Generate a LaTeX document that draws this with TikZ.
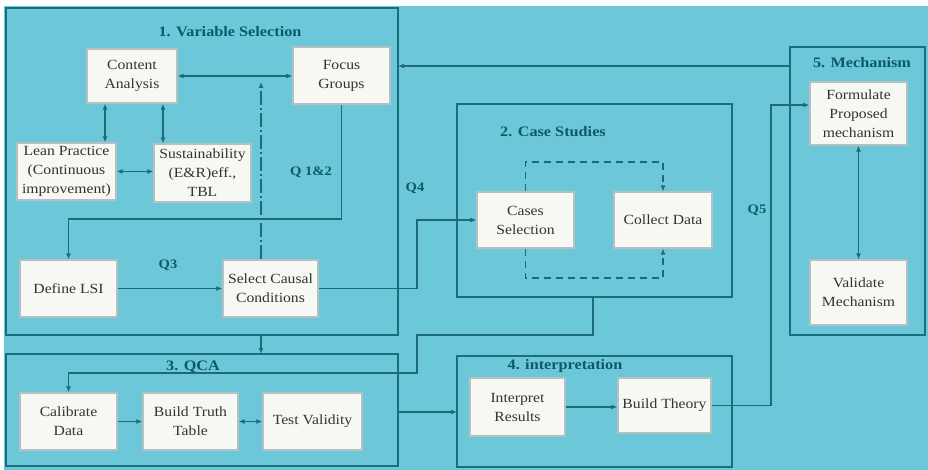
\documentclass[tikz,border=0pt]{standalone}
\usepackage{fontspec}
\setmainfont{Liberation Serif}
\newfontfamily\boxfont[FakeStretch=1.12]{Liberation Serif}
\usetikzlibrary{arrows.meta,calc}
\definecolor{bgc}{HTML}{6CC8D9}
\definecolor{secc}{HTML}{17707E}
\definecolor{conc}{HTML}{1D6B78}
\definecolor{titc}{HTML}{0C5A66}
\definecolor{boxf}{HTML}{F7F7F4}
\definecolor{boxd}{HTML}{B4C0C2}
\definecolor{txtc}{HTML}{333333}
\begin{document}
\begin{tikzpicture}[x=1pt,y=-1pt,
  sect/.style={draw=secc,line width=2.4pt,inner sep=0pt,outer sep=0pt},
  stepbox/.style={draw=boxd,fill=boxf,line width=1.2pt,inner sep=1pt,align=center,text=txtc,
    font=\boxfont\fontsize{14}{19}\selectfont},
  ttl/.style={text=titc,inner sep=0pt,font=\boxfont\bfseries\fontsize{14.5}{17}\selectfont},
  qlab/.style={text=titc,inner sep=0pt,font=\boxfont\bfseries\fontsize{13}{15}\selectfont},
  conn/.style={draw=conc,line width=1.2pt},
  dashpat/.style={dash pattern=on 14pt off 3pt on 2pt off 3pt},
  loopdash/.style={dash pattern=on 7pt off 5pt},
  >={Latex[length=6pt,width=5pt]}
]
\useasboundingbox (0,0) rectangle (928,470);
\fill[white] (0,0) rectangle (928,470);
\fill[bgc] (4,6) rectangle (928,470);

% sections
\node[sect,minimum width=392pt,minimum height=327pt] (s1) at (202,171.5) {};
\node[sect,minimum width=275pt,minimum height=193pt] (s2) at (594.5,200.5) {};
\node[sect,minimum width=392pt,minimum height=112pt] (s3) at (202,410) {};
\node[sect,minimum width=275pt,minimum height=111pt] (s4) at (594.5,411.5) {};
\node[sect,minimum width=135pt,minimum height=288pt] (s5) at (857.5,191) {};

% titles
\node[ttl] (t1) at (230,32) {1. Variable Selection};
\node[ttl] (t2) at (553,132) {2. Case Studies};
\node[ttl] (t3) at (193,367) {3. QCA};
\node[ttl] (t4) at (565,366) {4. interpretation};
\node[ttl] (t5) at (862,63) {5. Mechanism};

% boxes
\node[stepbox,minimum width=90pt,minimum height=54pt] (ca) at (132,76) {Content\\Analysis};
\node[stepbox,minimum width=97pt,minimum height=57pt] (fg) at (341.5,75.5) {Focus\\Groups};
\node[stepbox,minimum width=99pt,minimum height=57pt] (lean) at (66.5,171.5) {Lean Practice\\(Continuous\\improvement)};
\node[stepbox,minimum width=97pt,minimum height=58pt] (sus) at (202.5,173) {Sustainability\\(E\&R)eff.,\\TBL};
\node[stepbox,minimum width=97pt,minimum height=57pt] (dl) at (68.5,288.5) {Define LSI};
\node[stepbox,minimum width=95pt,minimum height=57pt] (sel) at (270.5,288.5) {Select Causal\\Conditions};
\node[stepbox,minimum width=97pt,minimum height=57pt] (cal) at (68.5,421.5) {Calibrate\\Data};
\node[stepbox,minimum width=95pt,minimum height=57pt] (btt) at (190.5,421.5) {Build Truth\\Table};
\node[stepbox,minimum width=99pt,minimum height=57pt] (tv) at (312.5,421.5) {Test Validity};
\node[stepbox,minimum width=97pt,minimum height=56pt] (cs) at (525.5,220) {Cases\\Selection};
\node[stepbox,minimum width=98pt,minimum height=56pt] (cd) at (663,220) {Collect Data};
\node[stepbox,minimum width=95pt,minimum height=58pt] (ir) at (517.5,407) {Interpret\\Results};
\node[stepbox,minimum width=93pt,minimum height=55pt] (bt) at (664.5,405.5) {Build Theory};
\node[stepbox,minimum width=97pt,minimum height=63pt] (form) at (858.5,113.5) {Formulate\\Proposed\\mechanism};
\node[stepbox,minimum width=97pt,minimum height=65pt] (val) at (858.5,292.5) {Validate\\Mechanism};

% labels
\node[qlab] (q12) at (311,172) {Q 1\&2};
\node[qlab] (q3) at (168,265) {Q3};
\node[qlab] (q4) at (415,188) {Q4};
\node[qlab] (q5l) at (757,210) {Q5};

% helper coordinates
\coordinate (dx) at (261,0);
\coordinate (dtop) at (261,82);
\coordinate (c1) at (105,0);
\coordinate (c2) at (163,0);
\coordinate (r1) at (0,219);
\coordinate (q4x) at (417,0);
\coordinate (lt) at (600,162);
\coordinate (lb) at (600,278);
\coordinate (b1) at (593,335);
\coordinate (b2) at (417,373);
\coordinate (m1) at (0,412);
\coordinate (q5) at (771,105);
\coordinate (m2) at (0,66);

% connectors
\draw[conn,<->] (ca.east) -- (ca.east -| fg.west);
\draw[conn,<->] (ca.south -| c1) -- (lean.north -| c1);
\draw[conn,<->] (ca.south -| c2) -- (sus.north -| c2);
\draw[conn,<->] (lean.east) -- (lean.east -| sus.west);
\draw[conn,dashpat,->] (sel.north -| dx) -- (dtop);
\draw[conn,->] (fg.south) |- (dl.north |- r1) -- (dl.north);
\draw[conn,->] (dl.east) -- (sel.west);
\draw[conn,->] (sel.east) -| (q4x |- cs.west) -- (cs.west);
\draw[conn,loopdash,->] (cs.north) |- (lt) -| (cd.north);
\draw[conn,loopdash,->] (cs.south) |- (lb) -| (cd.south);
\draw[conn,->] (s1.south -| dx) -- (s3.north -| dx);
\draw[conn,->] (s2.south -| b1) -- (b1) -| (b2) -| (cal.north);
\draw[conn,->] (cal.east) -- (btt.west);
\draw[conn,<->] (btt.east) -- (tv.west);
\draw[conn,->] (s3.east |- m1) -- (s4.west |- m1);
\draw[conn,->] (ir.east) -- (ir.east -| bt.west);
\draw[conn,->] (bt.east) -| (q5) -- (form.west |- q5);
\draw[conn,->] (s5.west |- m2) -- (s1.east |- m2);
\draw[conn,<->] (form.south) -- (val.north);
\end{tikzpicture}
\end{document}
